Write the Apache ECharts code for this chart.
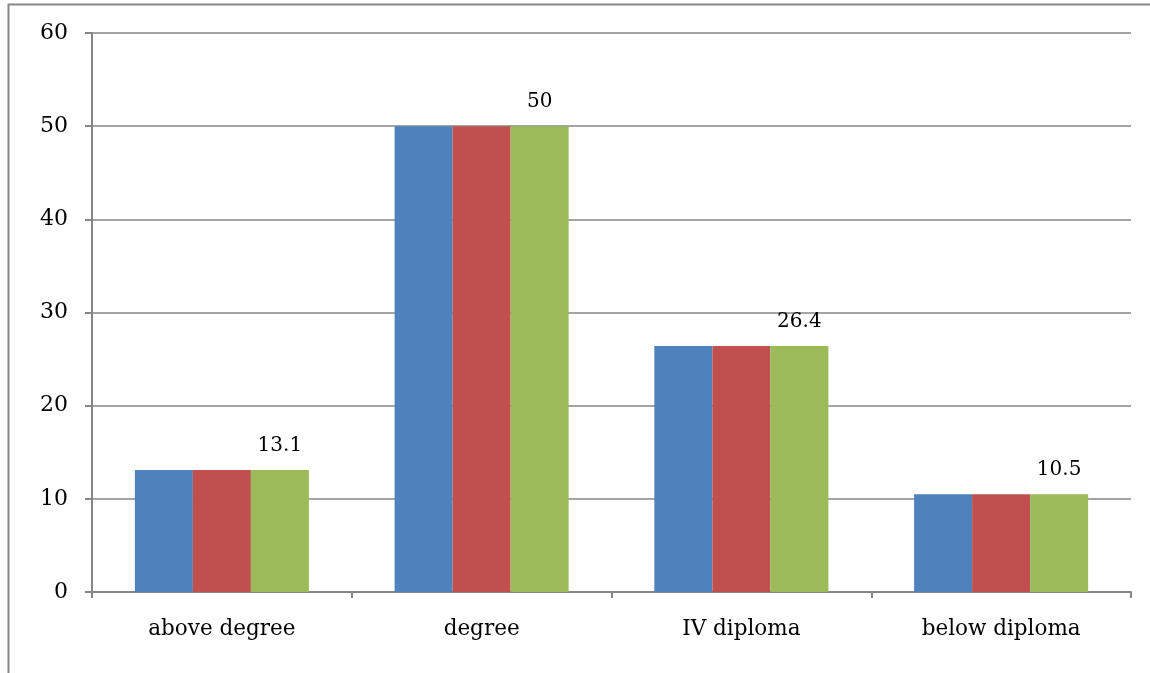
<!DOCTYPE html>
<html>
<head>
<meta charset="utf-8">
<script src="https://cdn.jsdelivr.net/npm/echarts@6/dist/echarts.min.js"></script>
<style>
  html, body { margin: 0; padding: 0; background: #fff; }
  #chart { width: 1150px; height: 673px; }
</style>
</head>
<body>
<div id="chart"></div>
<script>
// Education level categories and the three series values
const categories = ['above degree', 'degree', 'IV diploma', 'below diploma'];
const series1 = [13.1, 50, 26.4, 10.5];
const series2 = [13.1, 50, 26.4, 10.5];
const series3 = [13.1, 50, 26.4, 10.5];
const yTicks = { min: 0, max: 60, interval: 10 };

const FONT = '"DejaVu Serif", "Liberation Serif", serif';
const axisGray = '#868686';

const chart = echarts.init(document.getElementById('chart'), null, { renderer: 'canvas' });

chart.setOption({
  backgroundColor: '#fff',
  animation: false,
  graphic: [
    // outer chart frame (top and left edges visible)
    {
      type: 'polyline',
      shape: { points: [[8.5, 673], [8.5, 4.5], [1150, 4.5]] },
      style: { stroke: '#878787', lineWidth: 2, fill: null }
    }
  ],
  grid: { left: 92, top: 33, right: 19, bottom: 81, containLabel: false },
  xAxis: {
    type: 'category',
    data: categories,
    axisLine: { show: true, lineStyle: { color: axisGray, width: 2 } },
    axisTick: { show: true, length: 6, alignWithLabel: false, lineStyle: { color: axisGray, width: 2 } },
    axisLabel: { color: '#000', fontFamily: FONT, fontSize: 21.5, margin: 26 },
    splitLine: { show: false }
  },
  yAxis: {
    type: 'value',
    min: yTicks.min,
    max: yTicks.max,
    interval: yTicks.interval,
    axisLine: { show: true, lineStyle: { color: axisGray, width: 2 } },
    axisTick: { show: true, inside: false, length: 7, lineStyle: { color: axisGray, width: 2 } },
    axisLabel: { color: '#000', fontFamily: FONT, fontSize: 22, margin: 24 },
    splitLine: { show: true, lineStyle: { color: axisGray, width: 1.5 } }
  },
  series: [
    {
      type: 'bar', data: series1, barGap: '0%', barCategoryGap: '33%',
      itemStyle: { color: '#4F81BD' }
    },
    {
      type: 'bar', data: series2, barGap: '0%', barCategoryGap: '33%',
      itemStyle: { color: '#C0504D' }
    },
    {
      type: 'bar', data: series3, barGap: '0%', barCategoryGap: '33%',
      itemStyle: { color: '#9BBB59' },
      label: {
        show: true, position: 'top', distance: 14,
        color: '#000', fontFamily: FONT, fontSize: 20
      }
    }
  ]
});
</script>
</body>
</html>
